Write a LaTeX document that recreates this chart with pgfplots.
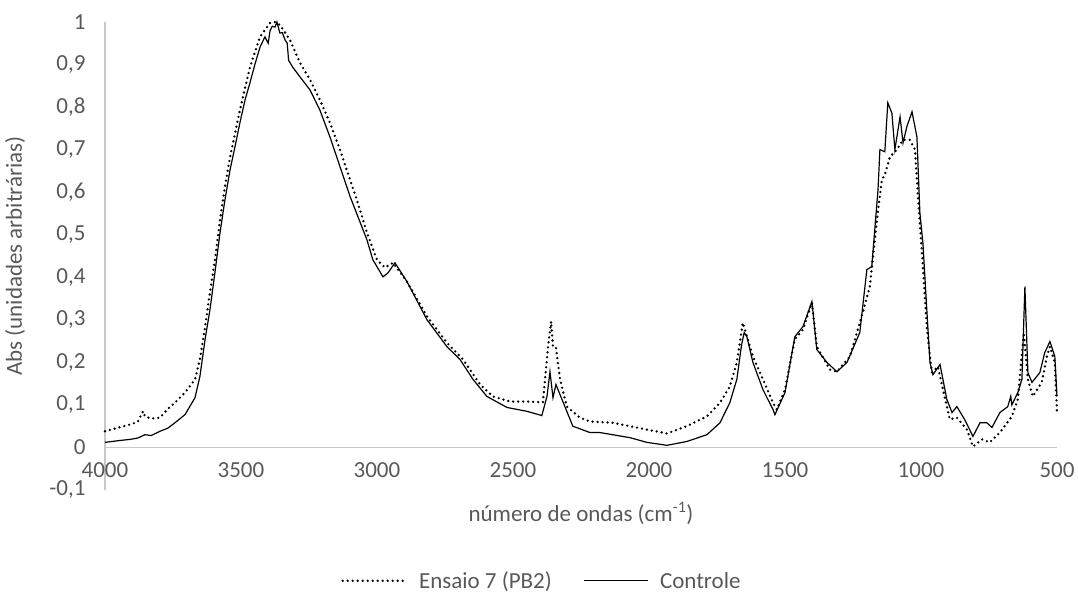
\documentclass[border=0pt]{standalone}
\usepackage{pgfplots}
\pgfplotsset{compat=1.18}
\usepackage{fontspec}
\setmainfont{Carlito}
\definecolor{txt}{HTML}{595959}
\definecolor{axl}{HTML}{C8C8C8}
\begin{document}
\begin{tikzpicture}[x=1pt,y=1pt]
\useasboundingbox (0,0) rectangle (1078,594);
\begin{axis}[
 at={(105pt,104pt)}, anchor=south west,
 scale only axis, width=952pt, height=468pt,
 x dir=reverse, xmin=500, xmax=4000, ymin=-0.1, ymax=1,
 axis x line=middle, axis y line=left,
 hide obscured x ticks=false, hide obscured y ticks=false,
 axis line style={draw=axl, line width=1.1pt, -},
 major tick length=0pt,
 xtick={500,1000,1500,2000,2500,3000,3500,4000},
 xticklabels={500,1000,1500,2000,2500,3000,3500,4000},
 ytick={-0.1,0,0.1,0.2,0.3,0.4,0.5,0.6,0.7,0.8,0.9,1},
 yticklabels={{-0,1},{0},{0,1},{0,2},{0,3},{0,4},{0,5},{0,6},{0,7},{0,8},{0,9},{1}},
 tick label style={font=\fontsize{23}{28}\selectfont, text=txt},
 xticklabel style={anchor=north, yshift=-12pt},
 yticklabel style={anchor=east, xshift=-16pt},
 xlabel={número de ondas (cm\textsuperscript{-1})},
 ylabel={Abs (unidades arbitrárias)},
 xlabel style={at={(axis description cs:0.5,-0.049)}, anchor=center, font=\fontsize{23}{28}\selectfont, text=txt},
 ylabel style={at={(axis description cs:-0.0945,0.5)}, anchor=center, rotate=0, font=\fontsize{23}{28}\selectfont, text=txt},
 legend style={at={(axis description cs:0.459,-0.194)}, anchor=center, draw=none, fill=none,
   legend columns=-1, font=\fontsize{23}{28}\selectfont, text=txt,
   /tikz/every odd column/.append style={column sep=9pt},
   /tikz/every even column/.append style={column sep=30pt}},
 legend image code/.code={\draw[#1] (0pt,0pt) -- (64pt,0pt);},
 clip=false,
]
\addplot[black, line width=2.6pt, line cap=round, dash pattern=on 0pt off 5pt] coordinates {
(4000,0.038)(3960,0.045)(3908,0.054)(3880,0.06)(3860,0.085)(3853,0.073)(3830,0.068)(3798,0.07)
(3770,0.09)(3743,0.105)(3706,0.129)(3669,0.16)(3651,0.207)(3632,0.284)(3614,0.364)(3596,0.44)
(3577,0.535)(3559,0.613)(3540,0.683)(3504,0.793)(3467,0.894)(3430,0.965)(3393,0.998)(3375,1.0)
(3357,0.993)(3320,0.958)(3283,0.904)(3246,0.864)(3210,0.817)(3173,0.763)(3136,0.70)(3099,0.629)
(3074,0.582)(3037,0.505)(3000,0.441)(2971,0.423)(2941,0.434)(2890,0.39)(2816,0.308)(2743,0.246)
(2684,0.207)(2621,0.148)(2574,0.12)(2511,0.108)(2449,0.108)(2390,0.106)(2371,0.237)(2360,0.296)
(2353,0.237)(2342,0.235)(2327,0.16)(2302,0.096)(2254,0.07)(2217,0.061)(2133,0.058)(2008,0.042)
(1934,0.033)(1861,0.05)(1787,0.073)(1739,0.105)(1703,0.143)(1677,0.2)(1655,0.293)(1618,0.214)
(1581,0.16)(1544,0.105)(1530,0.089)(1500,0.136)(1464,0.254)(1434,0.277)(1401,0.34)(1383,0.237)
(1335,0.183)(1309,0.178)(1261,0.214)(1225,0.293)(1188,0.378)(1162,0.535)(1144,0.629)(1133,0.641)
(1114,0.683)(1089,0.70)(1066,0.723)(1041,0.723)(1022,0.70)(1011,0.589)(993,0.425)(978,0.277)
(960,0.176)(938,0.19)(919,0.136)(894,0.066)(868,0.07)(831,0.042)(809,0.002)(776,0.019)
(747,0.012)(710,0.035)(666,0.073)(644,0.113)(622,0.27)(607,0.16)(589,0.12)(556,0.153)
(537,0.214)(526,0.237)(508,0.2)(500,0.082)
};
\addlegendentry{Ensaio 7 (PB2)}
\addplot[black, line width=1.2pt] coordinates {
(4000,0.012)(3950,0.016)(3908,0.019)(3880,0.022)(3853,0.03)(3830,0.028)(3798,0.038)(3770,0.045)
(3743,0.058)(3706,0.077)(3669,0.117)(3651,0.167)(3632,0.254)(3614,0.324)(3596,0.41)(3577,0.505)
(3559,0.582)(3540,0.653)(3522,0.707)(3504,0.763)(3485,0.817)(3467,0.857)(3449,0.9)(3430,0.941)
(3412,0.965)(3400,0.95)(3393,0.98)(3385,0.99)(3375,0.988)(3368,1.0)(3357,0.974)(3348,0.975)
(3338,0.958)(3330,0.95)(3325,0.91)(3310,0.894)(3283,0.871)(3246,0.84)(3210,0.793)(3173,0.73)
(3136,0.66)(3099,0.59)(3037,0.488)(3015,0.441)(2978,0.401)(2960,0.41)(2934,0.434)(2890,0.39)
(2816,0.30)(2743,0.237)(2695,0.207)(2647,0.16)(2596,0.12)(2522,0.094)(2449,0.085)(2394,0.075)
(2375,0.12)(2364,0.178)(2353,0.117)(2342,0.148)(2320,0.113)(2280,0.05)(2217,0.035)(2180,0.035)
(2070,0.023)(2008,0.012)(1934,0.005)(1861,0.014)(1787,0.03)(1739,0.058)(1703,0.105)(1677,0.16)
(1660,0.24)(1650,0.27)(1640,0.26)(1618,0.2)(1581,0.136)(1544,0.089)(1537,0.077)(1500,0.129)
(1464,0.26)(1434,0.284)(1401,0.343)(1383,0.23)(1346,0.2)(1309,0.178)(1272,0.2)(1225,0.27)
(1199,0.418)(1181,0.425)(1158,0.606)(1151,0.70)(1133,0.695)(1122,0.81)(1107,0.786)(1096,0.70)
(1077,0.777)(1066,0.716)(1052,0.754)(1033,0.789)(1015,0.73)(1004,0.551)(993,0.481)(978,0.317)
(967,0.2)(956,0.171)(930,0.195)(905,0.113)(886,0.082)(868,0.096)(839,0.065)(809,0.026)
(783,0.058)(758,0.058)(739,0.047)(710,0.082)(681,0.096)(670,0.12)(666,0.1)(644,0.129)
(629,0.16)(618,0.378)(607,0.176)(592,0.153)(563,0.176)(545,0.223)(526,0.249)(508,0.214)(500,0.12)
};
\addlegendentry{Controle}
\end{axis}
\end{tikzpicture}
\end{document}
